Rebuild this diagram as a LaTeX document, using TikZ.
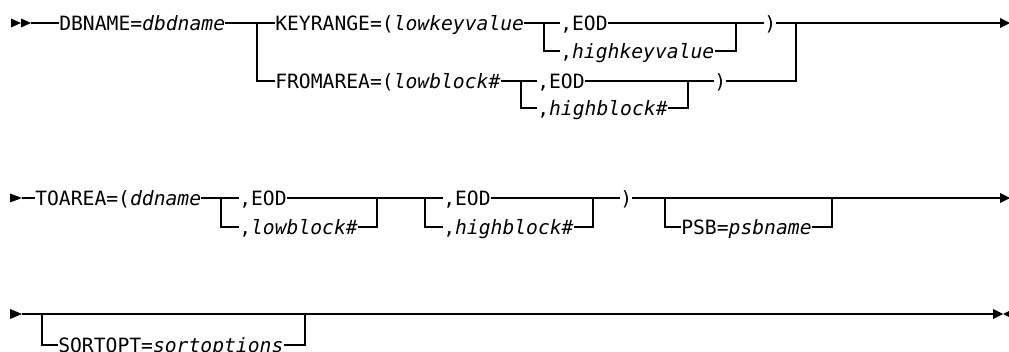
\documentclass[tikz,border=0pt]{standalone}
\usepackage{fontspec}
\setmainfont{DejaVu Sans Mono}
\usetikzlibrary{calc}

\begin{document}
\begin{tikzpicture}[x=0.75pt,y=-0.75pt,
  kw/.style={inner sep=0pt, anchor=west, text height=10.76pt, text depth=0pt,
             font=\fontsize{14.76pt}{17pt}\selectfont},
  rail/.style={line width=1pt, black},
  tip/.style={fill=black}]
\useasboundingbox (0,0) rectangle (1009,352);

% ---------- first line ----------
\node[kw] (db)    at (59,23)   {DBNAME=\textit{dbdname}};
\node[kw] (kr)    at (275,23)  {KEYRANGE=(\textit{lowkeyvalue}};
\node[kw] (kreod) at (560,23)  {,EOD};
\node[kw] (krhi)  at (560,51)  {,\textit{highkeyvalue}};
\node[kw] (krcl)  at (764,23)  {)};
\node[kw] (fa)    at (275,81)  {FROMAREA=(\textit{lowblock\#}};
\node[kw] (faeod) at (537,81)  {,EOD};
\node[kw] (fahi)  at (537,108) {,\textit{highblock\#}};
\node[kw] (facl)  at (714,81)  {)};

\coordinate (s1) at (31,23);
\coordinate (j1) at (257,23);
\coordinate (j2) at (544,23);
\coordinate (j3) at (736,23);
\coordinate (j4) at (521,81);
\coordinate (j5) at (688,81);
\coordinate (j6) at (796,23);
\coordinate (e1) at (1000,23);

\fill[tip] (11,18.5) -- (21,23) -- (11,27.5) -- cycle;
\fill[tip] (21,18.5) -- (31,23) -- (21,27.5) -- cycle;
\draw[rail] (s1) -- (db.west);
\draw[rail] (db.east) -- (kr.west);
\draw[rail] (j1) |- (fa.west);
\draw[rail] (kr.east) -- (kreod.west);
\draw[rail] (j2) |- (krhi.west);
\draw[rail] (kreod.east) -- (krcl.west);
\draw[rail] (krhi.east) -| (j3);
\draw[rail] (krcl.east) -- (e1);
\draw[rail] (fa.east) -- (faeod.west);
\draw[rail] (j4) |- (fahi.west);
\draw[rail] (faeod.east) -- (facl.west);
\draw[rail] (fahi.east) -| (j5);
\draw[rail] (facl.east) -| (j6);
\fill[tip] (1000,18) -- (1010,23) -- (1000,28) -- cycle;

% ---------- second line ----------
\node[kw] (ta)     at (35,198)  {TOAREA=(\textit{ddname}};
\node[kw] (taeod1) at (239,198) {,EOD};
\node[kw] (talo)   at (239,227) {,\textit{lowblock\#}};
\node[kw] (taeod2) at (443,198) {,EOD};
\node[kw] (tahi)   at (443,227) {,\textit{highblock\#}};
\node[kw] (tacl)   at (620,198) {)};
\node[kw] (psb)    at (681,227) {PSB=\textit{psbname}};

\coordinate (s2) at (22,198);
\coordinate (k1) at (221,198);
\coordinate (k2) at (377,198);
\coordinate (k3) at (425,198);
\coordinate (k4) at (593,198);
\coordinate (k5) at (665,198);
\coordinate (k6) at (832,198);
\coordinate (e2) at (1000,198);

\fill[tip] (10,193.5) -- (22,198) -- (10,202.5) -- cycle;
\draw[rail] (s2) -- (ta.west);
\draw[rail] (ta.east) -- (taeod1.west);
\draw[rail] (k1) |- (talo.west);
\draw[rail] (talo.east) -| (k2);
\draw[rail] (taeod1.east) -- (taeod2.west);
\draw[rail] (k3) |- (tahi.west);
\draw[rail] (tahi.east) -| (k4);
\draw[rail] (taeod2.east) -- (tacl.west);
\draw[rail] (tacl.east) -- (e2);
\draw[rail] (k5) |- (psb.west);
\draw[rail] (psb.east) -| (k6);
\fill[tip] (1000,193) -- (1010,198) -- (1000,203) -- cycle;

% ---------- third line ----------
\node[kw] (so) at (58,345) {SORTOPT=\textit{sortoptions}};

\coordinate (s3) at (22,314);
\coordinate (m1) at (42,314);
\coordinate (m2) at (305,314);
\coordinate (m3) at (312,314);
\coordinate (m4) at (333,314);
\coordinate (e3) at (993,314);

\fill[tip] (10,309) -- (22,314) -- (10,319) -- cycle;
\draw[rail] (s3) -- (e3);
\draw[rail] (m1) |- (so.west);
\draw[rail] (so.east) -| (m2);
\draw[line width=1.6pt] (m3) -- (m4);
\fill[tip] (993,309) -- (1003,314) -- (993,319) -- cycle;
\fill[tip] (1013,309) -- (1003,314) -- (1013,319) -- cycle;
\end{tikzpicture}
\end{document}
